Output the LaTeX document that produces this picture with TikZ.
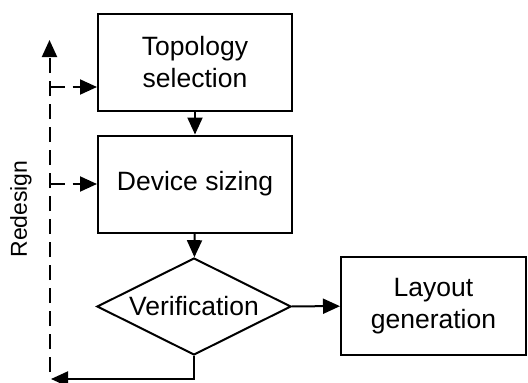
\documentclass[tikz,border=0pt]{standalone}
\usepackage{fontspec}
\setmainfont{Liberation Sans}
\usetikzlibrary{arrows.meta,shapes.geometric}

\tikzset{
  every picture/.style={x=1pt,y=-1pt},
  flowbox/.style={draw, line width=2pt, minimum width=194pt, minimum height=97pt,
    inner sep=0pt, align=center, font=\fontsize{26.5}{32}\selectfont},
  decision/.style={draw, diamond, aspect=2, line width=2pt, minimum width=194pt,
    minimum height=97pt, inner sep=0pt, font=\fontsize{26.5}{32}\selectfont},
  flow/.style={line width=2pt, -{Triangle[length=17pt,width=15pt]}},
  loopback/.style={flow, dash pattern=on 15pt off 8pt},
  sidelabel/.style={rotate=90, inner sep=0pt, font=\fontsize{23}{27}\selectfont},
}

\begin{document}
\begin{tikzpicture}
  \useasboundingbox (0,0) rectangle (528,383);

  % process steps
  \node[flowbox] (topo) at (195,62.5) {Topology\\selection};
  \node[flowbox] (dev)  at (195,184)  {Device sizing};
  \node[decision] (ver) at (194,306.5) {Verification};
  \node[flowbox, minimum width=185pt, minimum height=98pt] (lay) at (433.5,306) {Layout\\generation};

  % main flow
  \draw[flow] (topo) -- (dev);
  \draw[flow] (dev) -- (ver);
  \draw[flow] (ver) -- (lay);

  % failed verification returns to the redesign path
  \coordinate (ret) at (51,379);
  \draw[flow] (ver.south) |- (ret);

  % redesign path
  \coordinate (rbot) at (49.5,372);
  \coordinate (rtop) at (49.5,40);
  \draw[loopback] (rbot) -- (rtop);
  \coordinate (b1) at (49.5,87);
  \coordinate (b2) at (49.5,184);
  \draw[loopback] (b1) -- (b1 -| topo.west);
  \draw[loopback] (b2) -- (b2 -| dev.west);

  \node[sidelabel] (redesign) at (21,209) {Redesign};
\end{tikzpicture}
\end{document}
